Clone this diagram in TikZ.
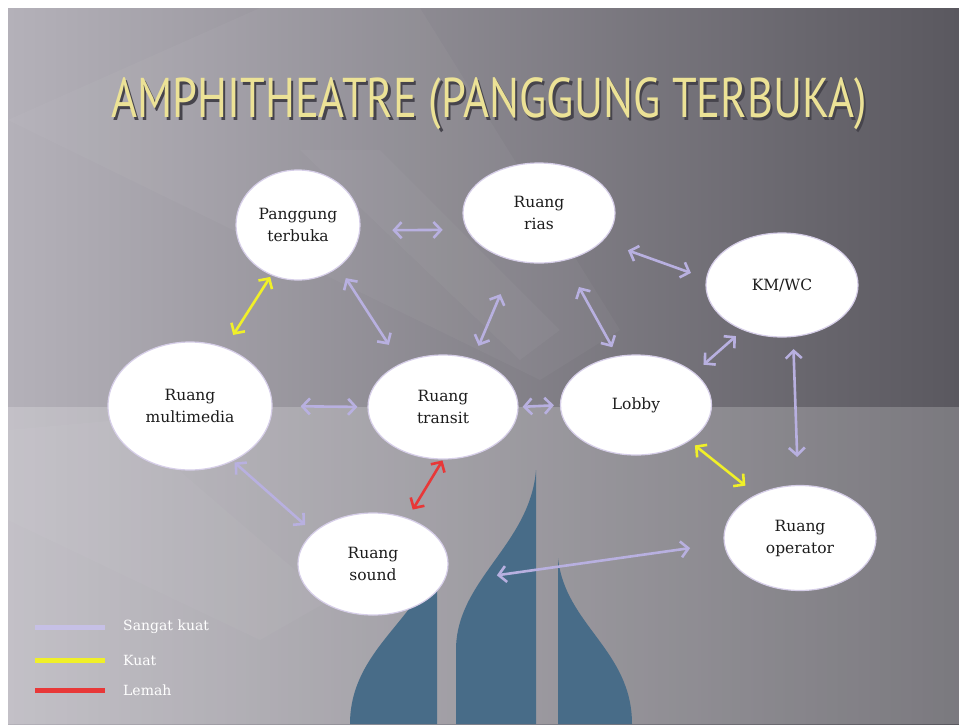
\documentclass[tikz,border=0pt]{standalone}
\usepackage{fontspec}
\usepackage{graphicx}
\setmainfont{DejaVu Serif}
\newfontfamily\titlefont{PT Sans}
\usetikzlibrary{positioning,arrows.meta,shapes.geometric}

\definecolor{slideL}{RGB}{180,177,185}
\definecolor{slideM}{RGB}{126,124,132}
\definecolor{slideR}{RGB}{90,88,95}
\definecolor{logoblue}{RGB}{72,108,136}
\definecolor{roomedge}{RGB}{214,206,232}
\definecolor{roomtext}{RGB}{28,28,28}
\definecolor{sangat}{RGB}{184,176,224}
\definecolor{kuat}{RGB}{240,240,40}
\definecolor{lemah}{RGB}{232,56,56}
\definecolor{titlecol}{RGB}{236,226,150}
\definecolor{titleshade}{RGB}{70,68,76}

\newcommand{\slidetitle}{AMPHITHEATRE (PANGGUNG TERBUKA)}

\begin{document}
\begin{tikzpicture}[x=1pt, y=-1pt, >={Straight Barb[length=7.5pt,width=16pt]},
  room/.style={ellipse, fill=white, draw=roomedge, line width=1.2pt, inner sep=0pt,
    align=center, text=roomtext, font=\fontsize{15.5}{22}\selectfont},
  sk/.style={<->, draw=sangat, line width=2.6pt},
  kt/.style={<->, draw=kuat, line width=2.6pt},
  lm/.style={<->, draw=lemah, line width=2.6pt},
  keyline/.style={line width=5pt},
  keytxt/.style={anchor=west, text=white, inner sep=0pt, font=\fontsize{14}{16}\selectfont}
]
  % slide background
  \useasboundingbox (0,0) rectangle (959,724);
  \fill[white] (0,0) rectangle (959,724);
  \shade[left color=slideL, middle color=slideM, right color=slideR] (8,8) rectangle (959,724);
  \fill[white, opacity=0.035] (8,120) -- (260,8) -- (420,8) -- (620,330) -- (540,380) -- cycle;
  \fill[white, opacity=0.035] (300,150) -- (380,150) -- (560,330) -- (520,360) -- cycle;
  \fill[white, opacity=0.03] (8,430) -- (120,420) -- (330,600) -- (260,640) -- (8,520) -- cycle;
  \fill[white, opacity=0.2] (8,407) rectangle (959,724);

  % logo
  \fill[logoblue] (437,724) -- (437,548) .. controls (430,615) and (350,645) .. (350,724) -- cycle;
  \fill[logoblue] (536,724) -- (536,470) .. controls (530,545) and (456,580) .. (456,650) -- (456,724) -- cycle;
  \fill[logoblue] (558,724) -- (558,558) .. controls (565,625) and (632,650) .. (632,724) -- cycle;

  % title with its shadow
  \node[text=titlecol, font=\titlefont\fontsize{56}{60}\selectfont] (title) at (489,105)
    {\scalebox{0.795}[1]{\makebox[0pt][l]{\kern3pt\raisebox{-3pt}{\color{titleshade}\slidetitle}}\slidetitle}};

  % rooms
  \node[room, minimum width=124pt, minimum height=110pt] (pang) at (298,225) {Panggung\\terbuka};
  \node[room, minimum width=152pt, minimum height=100pt] (rias) at (539,213) {Ruang\\rias};
  \node[room, minimum width=152pt, minimum height=104pt] (kmwc) at (782,285) {KM/WC};
  \node[room, minimum width=164pt, minimum height=128pt] (multi) at (190,406) {Ruang\\multimedia};
  \node[room, minimum width=150pt, minimum height=104pt] (transit) at (443,407) {Ruang\\transit};
  \node[room, minimum width=151pt, minimum height=100pt] (lobby) at (636,405) {Lobby};
  \node[room, minimum width=150pt, minimum height=102pt] (sound) at (373,564) {Ruang\\sound};
  \node[room, minimum width=152pt, minimum height=105pt] (oper) at (800,538) {Ruang\\operator};

  % relations
  \draw[sk, shorten <=32pt, shorten >=24pt] (pang.-5) -- (rias.193);
  \draw[sk, shorten <=13pt, shorten >=22pt] (pang.-46) -- (transit.134);
  \draw[sk, shorten <=36pt, shorten >=14pt] (rias.-117) -- (transit.58);
  \draw[sk, shorten <=30pt, shorten >=10pt] (rias.-62) -- (lobby.111);
  \draw[sk, shorten <=27pt, shorten >=16pt] (rias.-24) -- (kmwc.175);
  \draw[sk, shorten <=12pt, shorten >=9pt] (lobby.29) -- (kmwc.-131);
  \draw[sk, shorten <=12pt, shorten >=28pt] (kmwc.-78) -- (oper.92);
  \draw[kt, shorten <=7pt, shorten >=14pt] (lobby.-34) -- (oper.135);
  \draw[sk, shorten <=28pt, shorten >=10pt] (multi.east) -- (transit.west);
  \draw[sk, shorten <=4pt, shorten >=6pt] (transit.east) -- (lobby.west);
  \draw[sk, shorten <=2pt, shorten >=11pt] (multi.-52) -- (sound.152);
  \draw[lm, shorten <=1pt, shorten >=10pt] (transit.south) -- (sound.53);
  \draw[sk, shorten <=54pt, shorten >=34pt] (sound.-15) -- (oper.184);
  \draw[kt, shorten <=2pt, shorten >=15pt] (pang.-118) -- (multi.59);

  % legend
  \draw[keyline, draw=sangat!80!white] (35,627) -- (105,627);
  \draw[keyline, draw=kuat] (35,660) -- (105,660);
  \draw[keyline, draw=lemah] (35,690) -- (105,690);
  \node[keytxt] (k1) at (123,627) {Sangat kuat};
  \node[keytxt] (k2) at (123,660) {Kuat};
  \node[keytxt] (k3) at (123,690) {Lemah};
\end{tikzpicture}
\end{document}
